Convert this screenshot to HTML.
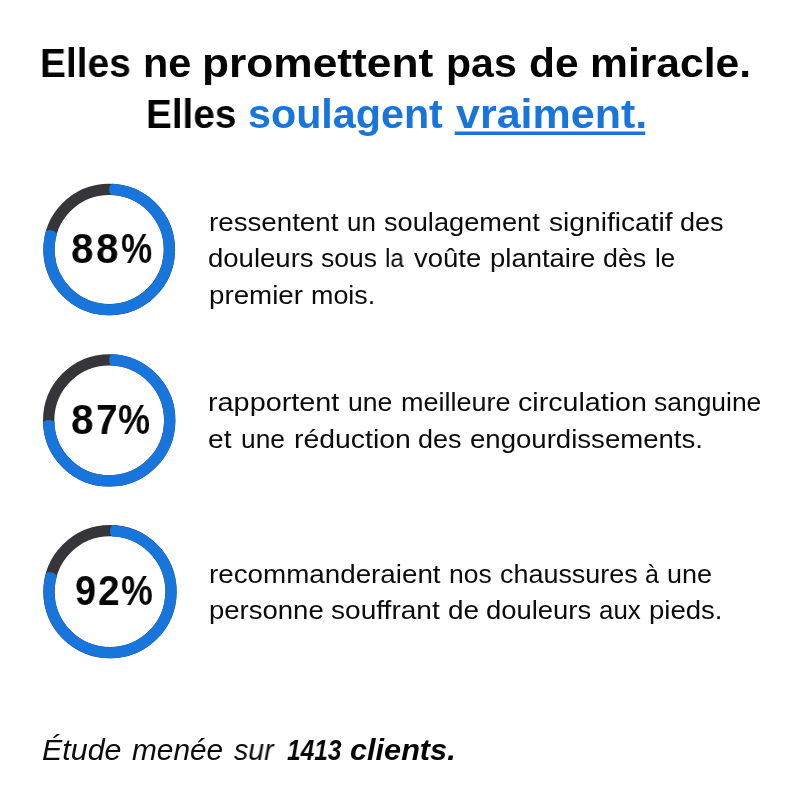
<!DOCTYPE html>
<html lang="fr">
<head>
<meta charset="utf-8">
<style>
html,body{margin:0;padding:0;background:#fff;}
body{width:800px;height:799px;position:relative;overflow:hidden;font-family:"Liberation Sans",sans-serif;color:#000;}
.ln{position:absolute;will-change:transform;white-space:nowrap;line-height:1;transform-origin:0 0;}
.t{font-weight:bold;font-size:40px;color:#050505;}
.b{font-size:25px;color:#0b0b0b;}
.blue{color:#1875db;}
.pct{font-weight:bold;font-size:43px;color:#050505;}
.foot{font-style:italic;font-size:29px;color:#0b0b0b;}
.fb{font-weight:bold;color:#050505;}
svg{position:absolute;left:0;top:0;}
</style>
</head>
<body>
<svg width="800" height="799" viewBox="0 0 800 799">
<circle cx="109.2" cy="249.5" r="60.2" fill="none" stroke="#35353a" stroke-width="11.3"/>
<path d="M112.20 189.37A60.2 60.2 0 1 1 51.20 233.37" fill="none" stroke="#1875db" stroke-width="11.3"/>
<ellipse cx="112.20" cy="189.37" rx="3.0" ry="5.65" transform="rotate(2.86 112.20 189.37)" fill="#1875db"/>
<ellipse cx="51.20" cy="233.37" rx="3.0" ry="5.65" transform="rotate(285.54 51.20 233.37)" fill="#1875db"/>
<circle cx="109.2" cy="420.4" r="60.5" fill="none" stroke="#35353a" stroke-width="11.3"/>
<path d="M112.20 359.97A60.5 60.5 0 1 1 48.75 422.98" fill="none" stroke="#1875db" stroke-width="11.3"/>
<ellipse cx="112.20" cy="359.97" rx="3.0" ry="5.65" transform="rotate(2.84 112.20 359.97)" fill="#1875db"/>
<ellipse cx="48.75" cy="422.98" rx="3.0" ry="5.65" transform="rotate(267.56 48.75 422.98)" fill="#1875db"/>
<circle cx="110" cy="591.7" r="61" fill="none" stroke="#35353a" stroke-width="11.3"/>
<path d="M113.00 530.77A61 61 0 1 1 51.21 575.42" fill="none" stroke="#1875db" stroke-width="11.3"/>
<ellipse cx="113.00" cy="530.77" rx="3.0" ry="5.65" transform="rotate(2.82 113.00 530.77)" fill="#1875db"/>
<ellipse cx="51.21" cy="575.42" rx="3.0" ry="5.65" transform="rotate(285.48 51.21 575.42)" fill="#1875db"/>
<rect x="454.7" y="131.5" width="190.5" height="3.5" fill="#1875db"/>
</svg>
<div class="ln t" style="left:40.26px;top:43px;transform:scaleX(0.9711)">Elles</div>
<div class="ln t" style="left:142.53px;top:43px;transform:scaleX(1.0341)">ne</div>
<div class="ln t" style="left:202.19px;top:43px;transform:scaleX(1.1072)">promettent</div>
<div class="ln t" style="left:446.35px;top:43px;transform:scaleX(1.0258)">pas</div>
<div class="ln t" style="left:529.34px;top:43px;transform:scaleX(1.0622)">de</div>
<div class="ln t" style="left:590.47px;top:43px;transform:scaleX(1.0653)">miracle.</div>
<div class="ln t" style="left:146.27px;top:94px;transform:scaleX(0.9667)">Elles</div>
<div class="ln t blue" style="left:247.97px;top:94px;transform:scaleX(1.0314)">soulagent</div>
<div class="ln t blue" style="left:455.90px;top:94px;transform:scaleX(1.0749)">vraiment.</div>
<div class="ln b" style="left:208.89px;top:210px;transform:scaleX(1.1078)">ressentent</div>
<div class="ln b" style="left:347.46px;top:210px;transform:scaleX(1.0385)">un</div>
<div class="ln b" style="left:384.41px;top:210px;transform:scaleX(1.0880)">soulagement</div>
<div class="ln b" style="left:548.62px;top:210px;transform:scaleX(1.1261)">significatif</div>
<div class="ln b" style="left:680.17px;top:210px;transform:scaleX(1.0833)">des</div>
<div class="ln b" style="left:208.40px;top:246px;transform:scaleX(1.1011)">douleurs</div>
<div class="ln b" style="left:321.19px;top:246px;transform:scaleX(1.0588)">sous</div>
<div class="ln b" style="left:385.19px;top:246px;transform:scaleX(0.9700)">la</div>
<div class="ln b" style="left:413.75px;top:246px;transform:scaleX(1.1000)">voûte</div>
<div class="ln b" style="left:489.90px;top:246px;transform:scaleX(1.0989)">plantaire</div>
<div class="ln b" style="left:603.33px;top:246px;transform:scaleX(1.0718)">dès</div>
<div class="ln b" style="left:654.77px;top:246px;transform:scaleX(1.0333)">le</div>
<div class="ln b" style="left:208.89px;top:283px;transform:scaleX(1.1083)">premier</div>
<div class="ln b" style="left:311.18px;top:283px;transform:scaleX(1.0746)">mois.</div>
<div class="ln b" style="left:208.35px;top:390px;transform:scaleX(1.1527)">rapportent</div>
<div class="ln b" style="left:347.94px;top:390px;transform:scaleX(1.0625)">une</div>
<div class="ln b" style="left:400.82px;top:390px;transform:scaleX(1.0810)">meilleure</div>
<div class="ln b" style="left:517.85px;top:390px;transform:scaleX(1.1455)">circulation</div>
<div class="ln b" style="left:653.94px;top:390px;transform:scaleX(1.0575)">sanguine</div>
<div class="ln b" style="left:208.28px;top:427px;transform:scaleX(1.1250)">et</div>
<div class="ln b" style="left:240.85px;top:427px;transform:scaleX(1.0525)">une</div>
<div class="ln b" style="left:293.86px;top:427px;transform:scaleX(1.1361)">réduction</div>
<div class="ln b" style="left:418.32px;top:427px;transform:scaleX(1.0795)">des</div>
<div class="ln b" style="left:469.90px;top:427px;transform:scaleX(1.1029)">engourdissements.</div>
<div class="ln b" style="left:208.89px;top:562px;transform:scaleX(1.1111)">recommanderaient</div>
<div class="ln b" style="left:449.04px;top:562px;transform:scaleX(1.0590)">nos</div>
<div class="ln b" style="left:500.12px;top:562px;transform:scaleX(1.0770)">chaussures</div>
<div class="ln b" style="left:644.90px;top:562px;transform:scaleX(0.9700)">à</div>
<div class="ln b" style="left:666.67px;top:562px;transform:scaleX(1.0787)">une</div>
<div class="ln b" style="left:208.90px;top:598px;transform:scaleX(1.1005)">personne</div>
<div class="ln b" style="left:330.78px;top:598px;transform:scaleX(1.1234)">souffrant</div>
<div class="ln b" style="left:447.88px;top:598px;transform:scaleX(1.1192)">de</div>
<div class="ln b" style="left:486.40px;top:598px;transform:scaleX(1.0968)">douleurs</div>
<div class="ln b" style="left:599.22px;top:598px;transform:scaleX(1.0346)">aux</div>
<div class="ln b" style="left:648.90px;top:598px;transform:scaleX(1.1016)">pieds.</div>
<div class="ln pct" style="left:70.81px;top:227px;transform:scaleX(0.9386)">8</div>
<div class="ln pct" style="left:96.31px;top:227px;transform:scaleX(0.9386)">8</div>
<div class="ln pct" style="left:121.38px;top:227px;transform:scaleX(0.8167)">%</div>
<div class="ln pct" style="left:71.36px;top:398px;transform:scaleX(0.9409)">8</div>
<div class="ln pct" style="left:96.00px;top:398px;transform:scaleX(0.8976)">7</div>
<div class="ln pct" style="left:117.76px;top:398px;transform:scaleX(0.8389)">%</div>
<div class="ln pct" style="left:74.82px;top:569px;transform:scaleX(0.8773)">9</div>
<div class="ln pct" style="left:98.20px;top:569px;transform:scaleX(0.9000)">2</div>
<div class="ln pct" style="left:120.92px;top:569px;transform:scaleX(0.8292)">%</div>
<div class="ln foot" style="left:42.45px;top:736px;transform:scaleX(1.0486)">Étude</div>
<div class="ln foot" style="left:132.00px;top:736px;transform:scaleX(1.0284)">menée</div>
<div class="ln foot" style="left:233.75px;top:736px;transform:scaleX(0.9821)">sur</div>
<div class="ln foot fb" style="left:286.50px;top:736px;transform:scaleX(0.8423)">1413</div>
<div class="ln foot fb" style="left:349.94px;top:736px;transform:scaleX(1.0573)">clients.</div>

</body>
</html>
